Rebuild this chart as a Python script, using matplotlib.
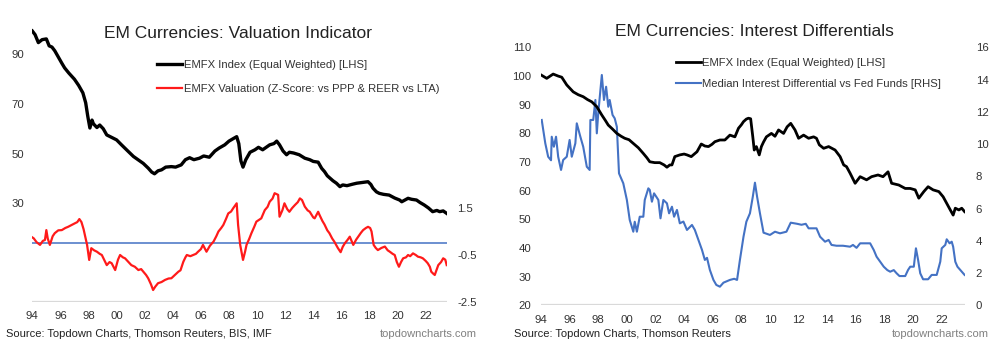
import matplotlib
matplotlib.use("Agg")
import matplotlib.pyplot as plt

plt.rcParams['font.family'] = ['Liberation Sans', 'DejaVu Sans']

# ---------------- data: left chart ----------------
val_idx_t = [1994.0, 1994.2, 1994.43, 1994.7, 1995.0, 1995.2, 1995.4, 1995.6, 1995.85, 1996.1, 1996.3, 1996.6,
             1997.0, 1997.3, 1997.6, 1997.8, 1997.95, 1998.1, 1998.25, 1998.35, 1998.6, 1998.8, 1999.05, 1999.3,
             1999.65, 2000.0, 2000.35, 2000.8, 2001.2, 2001.55, 2001.9, 2002.25, 2002.5, 2002.7, 2002.95, 2003.2,
             2003.5, 2003.9, 2004.2, 2004.6, 2004.9, 2005.2, 2005.5, 2005.9, 2006.2, 2006.6, 2007.0, 2007.3,
             2007.7, 2008.0, 2008.3, 2008.55, 2008.7, 2008.85, 2009.0, 2009.2, 2009.5, 2009.85, 2010.1, 2010.4,
             2010.9, 2011.2, 2011.4, 2011.6, 2011.85, 2012.1, 2012.3, 2012.6, 2013.0, 2013.4, 2013.75, 2014.0,
             2014.35, 2014.6, 2014.8, 2015.0, 2015.2, 2015.4, 2015.65, 2015.9, 2016.1, 2016.4, 2016.8, 2017.1,
             2017.5, 2017.9, 2018.1, 2018.25, 2018.5, 2018.7, 2019.0, 2019.4, 2019.8, 2020.15, 2020.3, 2020.75,
             2021.0, 2021.35, 2021.6, 2021.9, 2022.2, 2022.5, 2022.8, 2023.0, 2023.25, 2023.5]
val_idx = [99.5, 98.0, 94.8, 96.0, 96.3, 93.5, 93.0, 91.5, 89.0, 86.5, 84.6, 82.5,
           80.0, 77.5, 74.5, 70.5, 65.0, 60.3, 63.5, 62.0, 60.5, 61.5, 60.0, 57.5,
           56.5, 55.5, 53.5, 51.0, 48.8, 47.4, 46.0, 44.1, 42.5, 41.8, 43.0, 43.4,
           44.5, 44.7, 44.5, 45.4, 47.5, 48.3, 47.5, 48.1, 49.0, 48.5, 51.0, 52.2,
           53.5, 55.0, 56.0, 56.8, 54.0, 47.0, 44.5, 47.5, 50.5, 51.5, 52.5, 51.5,
           53.5, 54.0, 55.0, 53.5, 51.0, 49.5, 50.5, 50.2, 49.5, 48.1, 47.5, 46.8,
           46.5, 44.0, 42.7, 41.0, 40.0, 39.0, 38.0, 36.6, 37.3, 37.0, 37.6, 38.0,
           38.3, 38.6, 37.5, 36.0, 34.5, 33.9, 33.5, 33.2, 32.0, 31.2, 30.5, 31.9,
           31.5, 31.2, 30.2, 29.2, 28.0, 26.5, 27.0, 26.5, 26.8, 25.8]

val_z_t = [1994.0, 1994.1, 1994.3, 1994.55, 1994.75, 1994.9, 1995.0, 1995.1, 1995.25, 1995.45, 1995.6, 1995.85,
           1996.1, 1996.35, 1996.55, 1996.8, 1997.0, 1997.2, 1997.35, 1997.5, 1997.65, 1997.8, 1997.9, 1998.05,
           1998.2, 1998.4, 1998.6, 1998.8, 1998.95, 1999.15, 1999.3, 1999.5, 1999.65, 1999.9, 2000.1, 2000.25,
           2000.45, 2000.6, 2000.85, 2001.05, 2001.3, 2001.55, 2001.75, 2001.9, 2002.1, 2002.25, 2002.45, 2002.6,
           2002.75, 2002.95, 2003.2, 2003.45, 2003.7, 2003.9, 2004.15, 2004.4, 2004.55, 2004.75, 2004.9, 2005.0,
           2005.25, 2005.45, 2005.65, 2005.8, 2006.0, 2006.15, 2006.4, 2006.65, 2006.9, 2007.1, 2007.25, 2007.45,
           2007.6, 2007.8, 2007.95, 2008.15, 2008.3, 2008.55, 2008.65, 2008.8, 2008.9, 2009.0, 2009.15, 2009.25,
           2009.45, 2009.6, 2009.8, 2009.95, 2010.15, 2010.3, 2010.55, 2010.75, 2010.9, 2011.1, 2011.25, 2011.5,
           2011.6, 2011.8, 2011.95, 2012.15, 2012.3, 2012.5, 2012.7, 2012.9, 2013.05, 2013.2, 2013.4, 2013.6,
           2013.75, 2014.0, 2014.1, 2014.35, 2014.45, 2014.65, 2014.8, 2015.0, 2015.15, 2015.35, 2015.5, 2015.75,
           2015.95, 2016.1, 2016.25, 2016.45, 2016.6, 2016.85, 2017.05, 2017.2, 2017.4, 2017.55, 2017.75, 2017.9,
           2018.05, 2018.15, 2018.3, 2018.45, 2018.6, 2018.85, 2019.1, 2019.3, 2019.45, 2019.65, 2019.8, 2019.95,
           2020.1, 2020.25, 2020.4, 2020.6, 2020.75, 2020.9, 2021.1, 2021.3, 2021.45, 2021.65, 2021.8, 2022.0,
           2022.15, 2022.3, 2022.4, 2022.55, 2022.65, 2022.8, 2022.9, 2023.1, 2023.25, 2023.4, 2023.5]
val_z = [0.25, 0.21, 0.05, -0.07, 0.1, 0.14, 0.56, 0.2, -0.07, 0.3, 0.43, 0.55,
         0.56, 0.65, 0.70, 0.78, 0.84, 0.9, 1.03, 0.9, 0.6, 0.2, -0.07, -0.71,
         -0.21, -0.3, -0.36, -0.45, -0.5, -0.75, -0.93, -0.8, -0.85, -1.14, -0.7, -0.5,
         -0.6, -0.64, -0.8, -0.93, -1.0, -1.14, -1.1, -1.21, -1.35, -1.49, -1.75, -1.99,
         -1.85, -1.70, -1.65, -1.56, -1.5, -1.49, -1.35, -1.21, -1.15, -0.79, -0.6, -0.5,
         -0.55, -0.5, -0.45, -0.36, -0.25, -0.07, -0.36, -0.1, 0.07, 0.3, 0.5, 0.65,
         0.78, 1.05, 1.27, 1.35, 1.49, 1.70, 0.78, -0.07, -0.4, -0.71, -0.35, -0.07,
         0.2, 0.43, 0.7, 0.92, 1.0, 1.06, 1.41, 1.55, 1.77, 1.9, 2.13, 2.06,
         1.13, 1.4, 1.70, 1.45, 1.34, 1.5, 1.63, 1.75, 1.91, 1.84, 1.56, 1.4,
         1.34, 1.1, 1.06, 1.34, 1.2, 0.95, 0.8, 0.55, 0.43, 0.2, 0.07, -0.2,
         -0.38, -0.15, 0.0, 0.15, 0.28, -0.07, 0.15, 0.28, 0.45, 0.56, 0.65, 0.70,
         0.65, 0.5, -0.07, -0.2, -0.29, -0.2, -0.14, -0.3, -0.36, -0.45, -0.5, -0.8,
         -1.0, -0.8, -0.64, -0.6, -0.5, -0.55, -0.43, -0.5, -0.57, -0.6, -0.64, -0.75,
         -0.85, -1.0, -1.21, -1.3, -1.35, -1.1, -0.93, -0.8, -0.64, -0.7, -0.93]

# ---------------- data: right chart ----------------
int_idx_t = [1994.0, 1994.4, 1994.85, 1995.2, 1995.45, 1995.8, 1996.25, 1996.6, 1996.95, 1997.25, 1997.55, 1997.9,
             1998.25, 1998.5, 1998.7, 1999.0, 1999.3, 1999.6, 1999.85, 2000.15, 2000.45, 2000.8, 2001.15, 2001.4,
             2001.6, 2001.95, 2002.3, 2002.6, 2002.8, 2003.0, 2003.15, 2003.35, 2003.7, 2004.0, 2004.2, 2004.5,
             2004.9, 2005.2, 2005.45, 2005.7, 2005.95, 2006.15, 2006.5, 2006.85, 2007.2, 2007.55, 2007.8, 2008.0,
             2008.15, 2008.35, 2008.5, 2008.65, 2008.8, 2008.9, 2009.05, 2009.25, 2009.4, 2009.55, 2009.75, 2010.1,
             2010.35, 2010.6, 2010.95, 2011.2, 2011.45, 2011.75, 2012.0, 2012.35, 2012.7, 2013.05, 2013.25, 2013.45,
             2013.75, 2014.1, 2014.55, 2014.9, 2015.15, 2015.35, 2015.6, 2015.95, 2016.3, 2016.75, 2017.1, 2017.55,
             2017.9, 2018.25, 2018.5, 2019.0, 2019.45, 2019.8, 2020.15, 2020.4, 2020.75, 2021.05, 2021.4, 2021.8,
             2022.1, 2022.35, 2022.6, 2022.8, 2022.95, 2023.2, 2023.4, 2023.6]
int_idx = [100.4, 99.2, 100.7, 100.0, 99.6, 96.9, 94.5, 93.5, 92.8, 91.8, 91.0, 89.3,
           86.4, 84.5, 82.9, 81.5, 80.0, 79.0, 78.3, 77.8, 76.5, 75.0, 73.0, 71.5,
           70.1, 69.8, 69.8, 69.0, 68.2, 69.0, 69.0, 71.9, 72.5, 72.8, 72.5, 71.9,
           73.6, 76.3, 75.6, 75.4, 76.2, 77.1, 77.7, 77.7, 79.4, 78.8, 81.8, 83.0,
           84.1, 85.0, 85.3, 85.1, 78.8, 74.2, 75.4, 72.5, 75.4, 77.0, 78.8, 80.0,
           79.0, 81.2, 80.0, 82.3, 83.5, 81.2, 78.3, 79.4, 78.3, 78.8, 78.3, 76.0,
           74.8, 75.4, 74.2, 71.9, 69.0, 68.4, 66.1, 62.6, 64.9, 63.8, 64.9, 65.5,
           64.9, 66.6, 62.6, 62.0, 60.8, 60.8, 60.3, 57.4, 59.7, 61.4, 60.3, 59.7,
           57.9, 55.6, 53.3, 51.5, 53.9, 53.3, 53.9, 52.7]

int_diff_t = [1994.05, 1994.3, 1994.5, 1994.7, 1994.75, 1994.9, 1995.05, 1995.2, 1995.4, 1995.55, 1995.8, 1996.0,
              1996.15, 1996.4, 1996.5, 1996.75, 1996.95, 1997.2, 1997.4, 1997.45, 1997.65, 1997.8, 1997.9, 1998.0,
              1998.1, 1998.25, 1998.4, 1998.55, 1998.7, 1998.8, 1999.0, 1999.15, 1999.3, 1999.45, 1999.75, 2000.0,
              2000.2, 2000.45, 2000.55, 2000.7, 2000.9, 2001.15, 2001.25, 2001.5, 2001.6, 2001.75, 2001.9, 2002.2,
              2002.35, 2002.55, 2002.8, 2002.95, 2003.15, 2003.3, 2003.5, 2003.7, 2003.95, 2004.2, 2004.55, 2004.75,
              2005.0, 2005.25, 2005.45, 2005.6, 2005.8, 2006.05, 2006.25, 2006.5, 2006.75, 2007.2, 2007.5, 2007.7,
              2007.9, 2008.15, 2008.35, 2008.6, 2008.8, 2008.95, 2009.1, 2009.3, 2009.55, 2010.0, 2010.35, 2010.7,
              2011.15, 2011.45, 2011.9, 2012.2, 2012.5, 2012.7, 2013.25, 2013.5, 2013.85, 2014.1, 2014.3, 2014.65,
              2015.1, 2015.6, 2015.8, 2016.05, 2016.3, 2016.65, 2017.0, 2017.25, 2017.45, 2017.7, 2017.95, 2018.2,
              2018.4, 2018.65, 2018.85, 2019.05, 2019.45, 2019.65, 2019.8, 2020.05, 2020.2, 2020.35, 2020.5, 2020.7,
              2021.05, 2021.3, 2021.65, 2021.9, 2022.0, 2022.25, 2022.35, 2022.55, 2022.7, 2022.8, 2022.95, 2023.1,
              2023.3, 2023.6]
int_diff = [11.5, 10.05, 9.22, 9.0, 10.46, 9.84, 10.46, 9.22, 8.4, 9.02, 9.22, 10.26,
            9.22, 10.05, 11.29, 10.46, 9.84, 8.6, 8.4, 11.5, 11.5, 12.74, 10.67, 11.91,
            12.84, 14.29, 12.74, 13.56, 12.32, 12.74, 11.81, 11.6, 11.08, 8.19, 7.57, 6.54,
            5.3, 4.57, 5.19, 4.57, 5.5, 5.5, 6.54, 7.26, 7.16, 6.43, 6.95, 6.54,
            5.4, 6.54, 6.33, 5.71, 6.12, 5.5, 5.92, 5.09, 5.2, 4.68, 4.99, 4.68,
            4.06, 3.44, 2.82, 2.95, 2.2, 1.58, 1.27, 1.16, 1.41, 1.58, 1.65, 1.58,
            2.82, 4.26, 5.19, 5.71, 6.74, 7.61, 6.74, 5.71, 4.51, 4.37, 4.57, 4.47,
            4.57, 5.13, 5.06, 5.0, 5.06, 4.78, 4.78, 4.26, 3.95, 4.06, 3.75, 3.7,
            3.7, 3.64, 3.75, 3.57, 3.85, 3.85, 3.85, 3.44, 3.02, 2.71, 2.4, 2.19,
            2.09, 2.19, 1.99, 1.82, 1.82, 2.2, 2.4, 2.4, 3.54, 2.82, 1.99, 1.62,
            1.62, 1.89, 1.89, 2.71, 3.54, 3.75, 4.1, 3.85, 3.95, 3.64, 2.71, 2.4,
            2.2, 1.89]

year_ticks = list(range(1994, 2023, 2))
year_labels = ["94", "96", "98", "00", "02", "04", "06", "08", "10", "12", "14", "16", "18", "20", "22"]

left_lhs_ticks = [30, 50, 70, 90]
left_rhs_ticks = [-2.5, -0.5, 1.5]
right_lhs_ticks = list(range(20, 111, 10))
right_rhs_ticks = list(range(0, 17, 2))

# ---------------- styling ----------------
W, H = 1004, 354
TXT = '#333333'
BLACK = '#000000'
RED = '#FF1A1A'
BLUE = '#4472C4'
GRID = '#D9D9D9'
LEG_FS = 8.1
SRC_FS = 8.0
TITLE_FS = 12.5


def px_rect(x0, y_top, x1, y_bottom):
    return [x0 / W, 1 - y_bottom / H, (x1 - x0) / W, (y_bottom - y_top) / H]


def style(ax, twin):
    for a in (ax, twin):
        for s in a.spines.values():
            s.set_visible(False)
        a.tick_params(length=0, labelsize=8.2, colors=TXT)


fig = plt.figure(figsize=(W / 100, H / 100), dpi=100)

# ---------------- left chart ----------------
axL = fig.add_axes(px_rect(32.3, 5, 447.4, 302))
axL2 = axL.twinx()
style(axL, axL2)
axL.set_xlim(1994.0, 2023.55)
axL.set_ylim(-10, 110)
axL2.set_ylim(-2.5, 10.14)
axL.set_yticks(left_lhs_ticks)
axL2.set_yticks(left_rhs_ticks)
axL2.set_yticklabels([f"{v:.1f}" for v in left_rhs_ticks])
axL.set_xticks(year_ticks)
axL.set_xticklabels(year_labels)
axL.tick_params(axis='x', pad=6.5)
axL.tick_params(axis='y', pad=6)
axL2.tick_params(axis='y', pad=7)
axL.axhline(-10, color=GRID, lw=1.6, zorder=0)
axL2.axhline(0, color=BLUE, lw=1.1, zorder=1)
lL1, = axL.plot(val_idx_t, val_idx, color=BLACK, lw=2.4, label='EMFX Index (Equal Weighted) [LHS]')
lL2, = axL2.plot(val_z_t, val_z, color=RED, lw=1.6, label='EMFX Valuation (Z-Score: vs PPP & REER vs LTA)', zorder=2)
axL2.legend(handles=[lL1, lL2], loc='upper left', bbox_to_anchor=(157.5 / W, 1 - 59.5 / H),
            bbox_transform=fig.transFigure, frameon=False, fontsize=LEG_FS, handlelength=2.2,
            handletextpad=0.15, labelspacing=1.25, borderpad=0, borderaxespad=0, labelcolor=TXT)
fig.text(238 / W, 1 - 33 / H, 'EM Currencies: Valuation Indicator', ha='center', va='center',
         fontsize=TITLE_FS, color='#222222')
fig.text(6 / W, 1 - 334 / H, 'Source: Topdown Charts, Thomson Reuters, BIS, IMF', ha='left', va='center',
         fontsize=SRC_FS, color='#222222')
fig.text(477 / W, 1 - 334 / H, 'topdowncharts.com', ha='right', va='center', fontsize=SRC_FS, color='#808080')

# ---------------- right chart ----------------
axR = fig.add_axes(px_rect(541, 47.4, 964.6, 305.4))
axR2 = axR.twinx()
style(axR, axR2)
axR.set_xlim(1994.0, 2023.6)
axR.set_ylim(20, 110)
axR2.set_ylim(0, 16)
axR.set_yticks(right_lhs_ticks)
axR2.set_yticks(right_rhs_ticks)
axR.set_xticks(year_ticks)
axR.set_xticklabels(year_labels)
axR.tick_params(axis='x', pad=7)
axR.tick_params(axis='y', pad=7)
axR2.tick_params(axis='y', pad=8)
axR.axhline(20, color=GRID, lw=1.6, zorder=0)
lR2, = axR2.plot(int_diff_t, int_diff, color=BLUE, lw=1.5, label='Median Interest Differential vs Fed Funds [RHS]')
lR1, = axR2.plot([], [], color=BLACK, lw=2.0, label='EMFX Index (Equal Weighted) [LHS]')
axR.plot(int_idx_t, int_idx, color=BLACK, lw=2.0)
axR.set_zorder(axR2.get_zorder() + 1)
axR.patch.set_visible(False)
axR.legend(handles=[lR1, lR2], loc='upper left', bbox_to_anchor=(676 / W, 1 - 58 / H),
           bbox_transform=fig.transFigure, frameon=False, fontsize=LEG_FS, handlelength=2.2,
           handletextpad=0.15, labelspacing=1.0, borderpad=0, borderaxespad=0, labelcolor=TXT)
fig.text(754 / W, 1 - 31 / H, 'EM Currencies: Interest Differentials', ha='center', va='center',
         fontsize=TITLE_FS, color='#222222')
fig.text(514 / W, 1 - 334 / H, 'Source: Topdown Charts, Thomson Reuters', ha='left', va='center',
         fontsize=SRC_FS, color='#222222')
fig.text(989 / W, 1 - 334 / H, 'topdowncharts.com', ha='right', va='center', fontsize=SRC_FS, color='#808080')

fig.savefig('out.png', dpi=100)
